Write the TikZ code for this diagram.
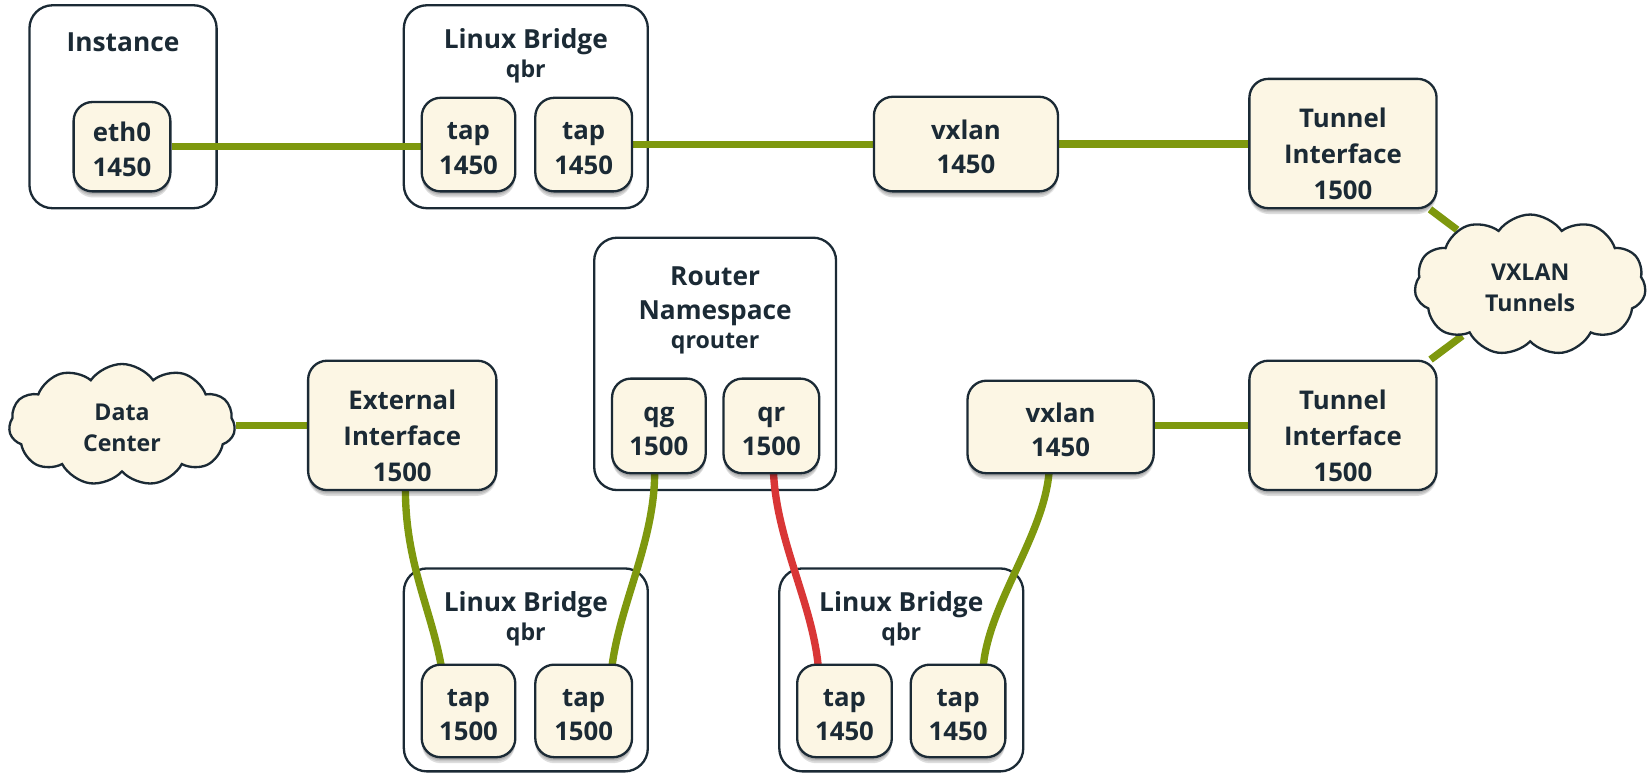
\documentclass[tikz,border=0pt]{standalone}
\usepackage{fontspec}
\setmainfont{Open Sans}
\usetikzlibrary{shapes.symbols,shadows,calc}
\definecolor{dk}{RGB}{27,42,53}
\definecolor{cream}{RGB}{252,246,228}
\definecolor{grn}{RGB}{126,152,14}
\definecolor{red1}{RGB}{217,54,54}
\pgfdeclarelayer{bg}
\pgfdeclarelayer{lines}
\pgfsetlayers{bg,lines,main}
\tikzset{
  cont/.style={draw=dk, line width=2.2pt, rounded corners=22pt, fill=white, inner sep=0pt},
  title/.style={font=\bfseries\fontsize{25}{30}\selectfont, text=dk, inner sep=0pt},
  sub/.style={font=\bfseries\fontsize{22}{26}\selectfont, text=dk, inner sep=0pt},
  softshadow/.style={
    general shadow={shadow xshift=0pt, shadow yshift=-7pt, shadow scale=0.98, fill=black, opacity=0.06},
    general shadow={shadow xshift=0pt, shadow yshift=-5.5pt, fill=black, opacity=0.08},
    general shadow={shadow xshift=0pt, shadow yshift=-4pt, fill=black, opacity=0.1},
    general shadow={shadow xshift=0pt, shadow yshift=-2.5pt, fill=black, opacity=0.12}},
  box/.style={draw=dk, line width=2.2pt, rounded corners=18pt, fill=cream, align=center,
    inner sep=0pt, text=dk, font=\bfseries\fontsize{24.5}{32.5}\selectfont, softshadow,
    text height=56pt, text depth=0pt},
  box3/.style={draw=dk, line width=2.2pt, rounded corners=18pt, fill=cream, align=center,
    inner sep=0pt, text=dk, font=\bfseries\fontsize{24.5}{34}\selectfont, softshadow,
    text height=106pt, text depth=0pt},
  cld/.style={cloud, cloud puffs=11, cloud puff arc=110, draw=dk, line width=2.2pt, fill=cream,
    align=center, inner sep=0pt, text=dk, font=\bfseries\fontsize{22}{29}\selectfont,
    text height=50pt, text depth=0pt},
  gline/.style={draw=grn, line width=7pt},
  rline/.style={draw=red1, line width=7pt},
}
\begin{document}
\begin{tikzpicture}[x=1pt,y=-1pt]
\useasboundingbox (0,0) rectangle (1568,736);
\begin{pgfonlayer}{bg}
\node[cont, minimum width=178pt, minimum height=193pt] (inst) at (117,101.5) {};
\node[cont, minimum width=232pt, minimum height=193pt] (lbT) at (500,101.5) {};
\node[cont, minimum width=230pt, minimum height=240pt] (router) at (680,346) {};
\node[cont, minimum width=232pt, minimum height=193pt] (lbBL) at (500,637) {};
\node[cont, minimum width=232pt, minimum height=193pt] (lbBR) at (857,637) {};
\end{pgfonlayer}
% titles
\node[title] (tInst) at (117,40) {Instance};
\node[title] (tLbT) at (500,40) {Linux Bridge};
\node[sub] (sLbT) at (500,68) {qbr};
\node[title] (tR1) at (680,263) {Router};
\node[title] (tR2) at (680,298) {Namespace};
\node[sub] (sR) at (680,327) {qrouter};
\node[title] (tLbBL) at (500,575) {Linux Bridge};
\node[sub] (sLbBL) at (500,603) {qbr};
\node[title] (tLbBR) at (857,575) {Linux Bridge};
\node[sub] (sLbBR) at (857,603) {qbr};
% boxes
\node[box, minimum width=92pt, minimum height=85pt] (eth0) at (116,139.5) {eth0\\1450};
\node[box, minimum width=89pt, minimum height=89pt] (tapA) at (445.5,137.5) {tap\\1450};
\node[box, minimum width=92pt, minimum height=89pt] (tapB) at (555,137.5) {tap\\1450};
\node[box, minimum width=175pt, minimum height=90pt] (vxT) at (918.5,137) {vxlan\\1450};
\node[box3, minimum width=178pt, minimum height=123pt] (tunT) at (1277,136.5) {Tunnel\\Interface\\1500};
\node[box3, minimum width=178pt, minimum height=123pt] (tunB) at (1277,404.5) {Tunnel\\Interface\\1500};
\node[box, minimum width=177pt, minimum height=88pt] (vxB) at (1008.5,406) {vxlan\\1450};
\node[box, minimum width=89pt, minimum height=90pt] (qg) at (626.5,405) {qg\\1500};
\node[box, minimum width=91pt, minimum height=90pt] (qr) at (733.5,405) {qr\\1500};
\node[box3, minimum width=179pt, minimum height=123pt] (ext) at (382.5,404.5) {External\\Interface\\1500};
\node[box, minimum width=89pt, minimum height=88pt] (bl1) at (445.5,676) {tap\\1500};
\node[box, minimum width=92pt, minimum height=88pt] (bl2) at (555,676) {tap\\1500};
\node[box, minimum width=90pt, minimum height=88pt] (br1) at (803,676) {tap\\1450};
\node[box, minimum width=90pt, minimum height=88pt] (br2) at (911,676) {tap\\1450};
% clouds
\node[cld, minimum width=220pt, minimum height=80pt] (vxc) at (1455,271) {VXLAN\\Tunnels};
\node[cld, minimum width=215pt, minimum height=78pt] (dc) at (116,404) {Data\\Center};
% connectors
\begin{pgfonlayer}{lines}
\draw[gline] (eth0.east) -- (eth0.east -| tapA.west);
\draw[gline] (tapB.east) -- (tapB.east -| vxT.west);
\draw[gline] (vxT.east) -- (vxT.east -| tunT.west);
\draw[gline] (tunT) -- (vxc);
\draw[gline] (vxc) -- (tunB);
\draw[gline] (vxB.east |- tunB.west) -- (tunB.west);
\draw[gline] (dc.east |- ext.west) -- (ext.west);
\draw[gline] ($(ext.south)+(3,-2)$) .. controls +(0,70) and +(-10,-55) .. ($(bl1.north)+(-26,2)$);
\draw[gline] ($(qg.south)+(-4,-2)$) .. controls +(0,65) and +(8,-60) .. ($(bl2.north)+(27,2)$);
\draw[rline] ($(qr.south)+(2,-2)$) .. controls +(3,65) and +(-6,-60) .. ($(br1.north)+(-25,2)$);
\draw[gline] ($(vxB.south)+(-11,-2)$) .. controls +(-5,60) and +(6,-60) .. ($(br2.north)+(24,2)$);
\end{pgfonlayer}
\end{tikzpicture}
\end{document}
